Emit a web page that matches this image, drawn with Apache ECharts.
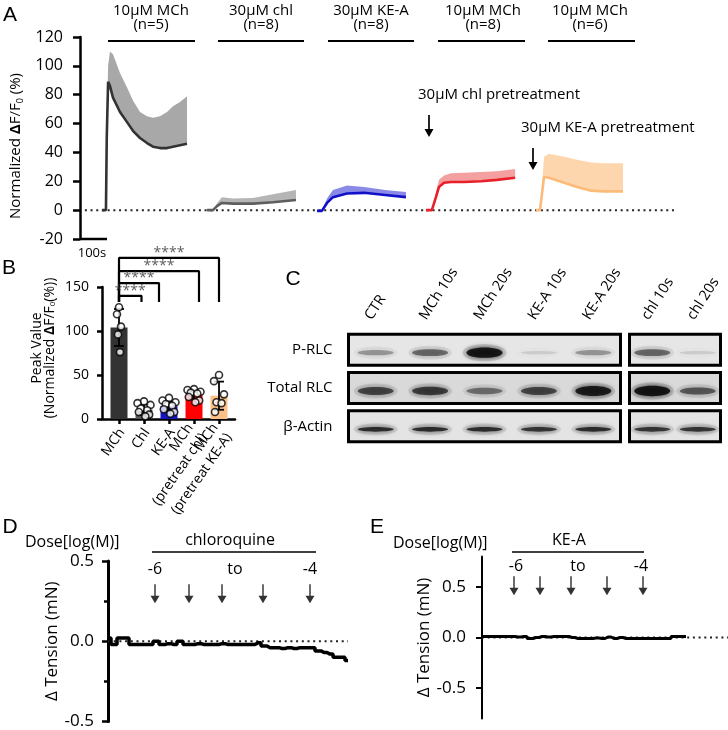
<!DOCTYPE html>
<html><head><meta charset="utf-8">
<script src="https://cdn.jsdelivr.net/npm/echarts@6/dist/echarts.min.js"></script>
<style>html,body{margin:0;padding:0;background:#fff}#c{width:728px;height:730px}</style>
</head><body><div id="c"></div>
<script>
// ---------- Panel A: Ca traces (time s, mean %, mean+error %) ----------
const tA1 = [81, 96, 99, 104, 111, 122, 148, 174, 196, 222, 248, 270, 296, 322, 344, 370, 396];
const mA1 = [0, 0, 50, 89, 86, 78, 68, 61, 55, 50, 46.5, 44, 43, 43, 44, 45, 46];
const uA1 = [0, 0, 60, 100, 110, 108, 95, 85, 76, 68, 65, 64, 65, 68, 72, 75, 79];
const tA2 = [470, 492, 508, 525, 566, 640, 714, 799];
const mA2 = [0, 0, 3, 5, 4.5, 4.5, 5.5, 7];
const uA2 = [0, 0, 5, 9, 8, 8.5, 11, 14];
const tA3 = [877, 895, 914, 936, 988, 1051, 1129, 1206];
const mA3 = [-0.5, -0.5, 5, 9, 11.5, 12, 10.5, 9];
const uA3 = [-0.5, -0.5, 8, 14, 17, 16, 14, 12.5];
const tA4 = [1280, 1302, 1317, 1328, 1347, 1373, 1421, 1484, 1543, 1610];
const mA4 = [0, 0, 9, 16, 19, 19.5, 19.5, 20, 21, 22.5];
const uA4 = [0, 0, 12, 21, 24, 25.5, 26, 26.5, 27, 28.5];
const tA5 = [1687, 1702, 1717, 1735, 1791, 1839, 1891, 1939, 2009];
const mA5 = [0, 0, 23, 22.5, 19, 16, 13.5, 13, 13];
const uA5 = [0, 0, 37, 39, 37, 35, 33, 32.5, 32.5];
const groupLabels = ['10µM MCh', '30µM chl', '30µM KE-A', '10µM MCh', '10µM MCh'];
const groupN = [5, 8, 8, 8, 6];
const yTicksA = [-20, 120, 20];

// ---------- Panel B: peak values ----------
const catsB = ['MCh', 'Chl', 'KE-A', 'MCh\n(pretreat chl)', 'MCh\n(pretreat KE-A)'];
const meansB = [104, 10.5, 14.5, 27.5, 26.5];
const sdB = [21, 6, 5.5, 5, 16];
const ptsMCh = [127, 119, 105, 96, 76];
const ptsChl = [20, 18, 16, 12, 10, 8, 5, 3];
const ptsKEA = [24, 21, 19, 17, 15, 11, 8, 6];
const ptsPreChl = [34, 33, 31, 30, 29, 25, 21, 19];
const ptsPreKEA = [50, 43, 28, 19, 18, 8];
const bracketEnd = [0.9, 1.6, 3.2, 4.0];
const bracketY = [140, 154.5, 168, 183];
const bracketBase = 133;

// ---------- Panel C: western blot band intensities (0..1) ----------
const lanesL = ['CTR', 'MCh 10s', 'MCh 20s', 'KE-A 10s', 'KE-A 20s'];
const lanesR = ['chl 10s', 'chl 20s'];
const rowsC = ['P-RLC', 'Total RLC', 'β-Actin'];
const pRLC_L = [0.35, 0.55, 1.0, 0.12, 0.35];
const totRLC_L = [0.7, 0.75, 0.5, 0.7, 0.95];
const actin_L = [0.85, 0.85, 0.85, 0.8, 0.85];
const pRLC_R = [0.55, 0.12];
const totRLC_R = [1.0, 0.6];
const actin_R = [0.8, 0.8];

// ---------- Panel D / E: tension traces ----------
const tD = [0,30,60,90,120,150,180,210,240,270,300,330,360,390,420,450,480,510,540,570,600,630,660,690,720,750,780,810,840,870,900,930,960,990,1020,1050,1080,1110,1140,1170,1200];
const vD = [0.02,-0.02,0.02,0.02,-0.02,-0.02,-0.02,-0.02,0.0,-0.02,-0.015,-0.02,0.0,-0.02,-0.02,-0.015,-0.02,-0.02,-0.02,-0.015,-0.02,-0.02,-0.02,-0.02,-0.02,-0.01,-0.03,-0.04,-0.04,-0.045,-0.04,-0.045,-0.04,-0.04,-0.04,-0.06,-0.07,-0.08,-0.1,-0.1,-0.12];
const doseD = [235, 405, 570, 775, 1010];
const tE = [0,30,60,90,120,150,180,210,240,270,300,330,360,390,420,450,480,510,540,570,600,630,660,690,720,750,780,810,840,870,900,930,960,990,1020];
const vE = [0.01,0.01,0.01,0.01,0.01,0.01,0.005,0.01,-0.01,0.0,0.01,0.005,0.01,0.01,0.01,0.0,-0.01,-0.01,-0.01,-0.005,-0.01,0.005,-0.01,0.0,-0.01,-0.01,-0.01,-0.01,-0.01,-0.01,-0.01,-0.01,0.01,0.01,0.01];
const doseE = [160, 290, 445, 625, 805];
const doseLabels = ['-6', 'to', '-4'];

// ======================================================
const FONT = 'Open Sans';
const chart = echarts.init(document.getElementById('c'), null, {width: 728, height: 730});
const blk = '#000';
const ARROW = 'path://M4.2,0 L5.8,0 L5.8,12 L10,12 L5,20 L0,12 L4.2,12 Z';
const DEG = Math.PI / 180;

function meanLine(t, m, lc) {
  return {type: 'line', xAxisIndex: 0, yAxisIndex: 0, symbol: 'none', data: t.map((x, i) => [x, m[i]]),
          lineStyle: {color: lc, width: 2.6}, z: 4, silent: true};
}
function band(t, m, u, color) {
  return {type: 'custom', xAxisIndex: 0, yAxisIndex: 0, z: 2, silent: true,
    data: t.map((x, i) => [x, m[i], u[i]]),
    renderItem(params, api) {
      if (params.dataIndex !== 0) return null;
      const P = [];
      for (let i = 0; i < t.length; i++) P.push(api.coord([t[i], u[i]]));
      for (let i = t.length - 1; i >= 0; i--) P.push(api.coord([t[i], m[i]]));
      return {type: 'polygon', shape: {points: P}, style: {fill: color}};
    }};
}
const jit = [0, -1, 1, -0.5, 0.5, -0.8, 0.8, 0.2];
function pts(arr, i, spread) { return arr.map((v, k) => [i + jit[k % jit.length] * spread, v]); }

function bandItem(params, api) {
  const l = api.value(0), r = api.value(1), I = api.value(2);
  const p = api.coord([l, r]);
  const cx = p[0], cy = p[1] + 3;
  const rx = 18;
  const ry = r === 2 ? 2.3 : 1.2 + 4 * I;
  return {type: 'group', children: [
    {type: 'ellipse', shape: {cx, cy, rx: rx + 4, ry: ry + 3.5}, style: {fill: 'rgba(40,40,40,' + (0.14 * I).toFixed(3) + ')', shadowBlur: 6, shadowColor: 'rgba(0,0,0,' + (0.2 * I).toFixed(3) + ')'}},
    {type: 'ellipse', shape: {cx, cy, rx, ry}, style: {fill: 'rgba(10,10,10,' + (0.88 * I).toFixed(3) + ')', shadowBlur: 5, shadowColor: 'rgba(0,0,0,' + (0.8 * I).toFixed(3) + ')'}}
  ]};
}
const boxFill = ['#e6e6e6', '#d9d9d9', '#e4e4e4'];
function boxItem(params, api) {
  const r = api.value(1);
  const cs = params.coordSys;
  const c = api.coord([0, r]);
  const h = 31;
  return {type: 'rect', shape: {x: cs.x, y: c[1] - h / 2, width: cs.width, height: h},
          style: {fill: boxFill[r], stroke: '#000', lineWidth: 3}};
}
function bandData(rowsArr) {
  const d = [];
  rowsArr.forEach((arr, r) => arr.forEach((I, l) => d.push([l, r, I])));
  return d;
}
function laneLabels(names, xi, yi) {
  return {type: 'custom', xAxisIndex: xi, yAxisIndex: yi, silent: true, z: 5,
    data: names.map((s, i) => [i, 0]),
    renderItem(params, api) {
      const p = api.coord([api.value(0), 0]);
      return {type: 'text', x: p[0] - 1, y: params.coordSys.y - 8, rotation: 57 * DEG,
        style: {text: names[params.dataIndex], fontSize: 14.5, fontFamily: FONT, fill: blk,
                align: 'left', verticalAlign: 'bottom', textAlign: 'left', textVerticalAlign: 'bottom'}};
    }};
}

// ---------- graphic (letters, annotations) ----------
const G = [];
function txt(x, y, t, size, align, extra) {
  G.push({type: 'text', x, y, silent: true, style: Object.assign({text: t, fontSize: size, fontFamily: FONT, fill: '#000',
    align: align || 'center', verticalAlign: 'middle', textAlign: align || 'center', textVerticalAlign: 'middle'}, extra || {})});
}
function hline(x1, x2, y, w) { G.push({type: 'line', silent: true, shape: {x1, y1: y, x2, y2: y}, style: {stroke: '#000', lineWidth: w || 1.8}}); }
function arrow(x, y1, y2) {
  G.push({type: 'line', silent: true, shape: {x1: x, y1: y1, x2: x, y2: y2 - 5}, style: {stroke: '#000', lineWidth: 1.7}});
  G.push({type: 'polygon', silent: true, shape: {points: [[x - 4.5, y2 - 8], [x + 4.5, y2 - 8], [x, y2]]}, style: {fill: '#000'}});
}
const LF = {fontFamily: 'Liberation Sans'};
txt(10, 15, 'A', 21, 'center', LF);
txt(9, 268, 'B', 21, 'center', LF);
txt(293, 279, 'C', 21, 'center', LF);
txt(10, 527, 'D', 21, 'center', LF);
txt(377, 527, 'E', 21, 'center', LF);

const gC = [151, 261, 371, 483, 590];
const gR = [[108, 195], [218, 304], [328, 414], [438, 525], [548, 635]];
groupLabels.forEach((s, i) => {
  txt(gC[i], 11, s, 15);
  txt(gC[i], 25, '(n=' + groupN[i] + ')', 15);
  hline(gR[i][0], gR[i][1], 41, 1.8);
});
txt(418, 95, '30µM chl pretreatment', 15, 'left');
arrow(429, 115, 137);
txt(521, 128, '30µM KE-A pretreatment', 15, 'left');
arrow(533, 148, 170);
txt(92, 253, '100s', 13);

txt(25, 542, 'Dose[log(M)]', 16, 'left');
txt(230, 540, 'chloroquine', 16);
hline(152, 316, 552, 1.6);
[155, 235, 310].forEach((x, i) => txt(x, 569, doseLabels[i], 16));
txt(393, 543, 'Dose[log(M)]', 16, 'left');
txt(569, 540, 'KE-A', 16);
hline(512, 644, 552, 1.6);
[516, 578, 641].forEach((x, i) => txt(x, 566, doseLabels[i], 16));

const dotted = {color: '#222', width: 2, type: [2, 3.7]};
const axLine = (w) => ({show: true, onZero: false, lineStyle: {color: blk, width: w}});
const axTick = (len, w) => ({show: true, length: len, lineStyle: {color: blk, width: w}});

const richName = (size) => ({
  a: {fontSize: size, fontFamily: FONT, color: blk, lineHeight: size + 2},
  b: {fontSize: size, fontFamily: FONT, fontWeight: 'bold', color: blk, lineHeight: size + 2},
  s: {fontSize: Math.round(size * 0.6), fontFamily: FONT, color: blk, verticalAlign: 'bottom', lineHeight: Math.round(size * 0.6)}
});

const option = {
  animation: false,
  textStyle: {fontFamily: FONT},
  graphic: G,
  grid: [
    {left: 80, top: 37, width: 600, height: 202},
    {left: 102, top: 287, width: 133, height: 132},
    {left: 348.5, top: 330.5, width: 272, height: 115},
    {left: 629.5, top: 330.5, width: 91, height: 115},
    {left: 108, top: 561, width: 240, height: 162},
    {left: 482, top: 556.5, width: 246, height: 162}
  ],
  xAxis: [
    {gridIndex: 0, type: 'value', min: 0, max: 2220, show: false},
    {gridIndex: 1, type: 'value', min: -0.68, max: 4.64, axisLine: axLine(2.5),
     axisTick: Object.assign(axTick(5, 2.5), {customValues: [0, 1, 2, 3, 4]}),
     axisLabel: {show: false}, splitLine: {show: false}},
    {gridIndex: 2, type: 'category', position: 'top', data: lanesL, axisLine: {show: false}, axisTick: {show: false}, axisLabel: {show: false}},
    {gridIndex: 3, type: 'category', position: 'top', data: lanesR, axisLine: {show: false}, axisTick: {show: false}, axisLabel: {show: false}},
    {gridIndex: 4, type: 'value', min: 0, max: 1200, show: false},
    {gridIndex: 5, type: 'value', min: 0, max: 1230, show: false}
  ],
  yAxis: [
    {gridIndex: 0, type: 'value', min: yTicksA[0], max: yTicksA[1], interval: yTicksA[2], axisLine: axLine(2.5), axisTick: axTick(7, 2.5),
     axisLabel: {fontSize: 16, margin: 17, color: blk}, splitLine: {show: false},
     name: '{a|Normalized }{b|Δ}{a|F/F}{s|0}{a| (%)}', nameLocation: 'middle', nameGap: 45,
     nameTextStyle: {padding: [0, 16, 0, 0], rich: richName(15)}},
    {gridIndex: 1, type: 'value', min: 0, max: 150, interval: 50, axisLine: axLine(2.5), axisTick: axTick(5, 2.5),
     axisLabel: {fontSize: 14, margin: 13, color: blk}, splitLine: {show: false},
     name: '{a|Peak Value}\n{a|(Normalized }{b|Δ}{a|F/F}{s|0}{a|(%))}', nameLocation: 'middle', nameGap: 45,
     nameTextStyle: {padding: [0, 0, 0, 10], rich: {
       a: {fontSize: 14, fontFamily: FONT, color: blk, lineHeight: 13},
       b: {fontSize: 14, fontFamily: FONT, fontWeight: 'bold', color: blk, lineHeight: 13},
       s: {fontSize: 8, fontFamily: FONT, color: blk, verticalAlign: 'bottom', lineHeight: 8}}}},
    {gridIndex: 2, type: 'category', data: rowsC, inverse: true, axisLine: {show: false}, axisTick: {show: false},
     axisLabel: {fontSize: 15, margin: 16, color: blk}},
    {gridIndex: 3, type: 'category', data: rowsC, inverse: true, show: false},
    {gridIndex: 4, type: 'value', min: -0.5, max: 0.5, interval: 0.5, axisLine: axLine(3), axisTick: axTick(6, 2.5),
     minorTick: {show: true, splitNumber: 2, length: 4, lineStyle: {color: blk, width: 2.5}},
     axisLabel: {fontSize: 17, margin: 14, color: blk, formatter: v => v.toFixed(1)}, splitLine: {show: false}, minorSplitLine: {show: false},
     name: 'Δ Tension (mN)', nameLocation: 'middle', nameGap: 46, nameTextStyle: {fontSize: 17, color: blk}},
    {gridIndex: 5, type: 'value', min: -0.8, max: 0.8, axisLine: axLine(2),
     axisTick: Object.assign(axTick(6, 2), {customValues: [-0.5, 0, 0.5]}),
     axisLabel: {customValues: [-0.5, 0, 0.5], fontSize: 17, margin: 16, color: blk, formatter: v => v.toFixed(1)}, splitLine: {show: false},
     name: 'Δ Tension (mN)', nameLocation: 'middle', nameGap: 49, nameTextStyle: {fontSize: 17, color: blk}}
  ],
  series: [
    // Panel A
    {type: 'line', xAxisIndex: 0, yAxisIndex: 0, data: [[18, 0], [2205, 0]], symbol: 'none', lineStyle: dotted, z: 1, silent: true},
    band(tA1, mA1, uA1, '#a8a8a8'), meanLine(tA1, mA1, '#333333'),
    band(tA2, mA2, uA2, '#b5b5b5'), meanLine(tA2, mA2, '#5e5e5e'),
    band(tA3, mA3, uA3, '#8a8ae6'), meanLine(tA3, mA3, '#1010c8'),
    band(tA4, mA4, uA4, '#f5a0a0'), meanLine(tA4, mA4, '#e8202a'),
    band(tA5, mA5, uA5, '#fed6ad'), meanLine(tA5, mA5, '#fdbb7a'),
    {type: 'line', xAxisIndex: 0, yAxisIndex: 0, data: [[0, -20], [100, -20]], symbol: 'none', clip: false,
     lineStyle: {color: blk, width: 2.5}, z: 5, silent: true},

    // Panel B
    {type: 'bar', xAxisIndex: 1, yAxisIndex: 1, barWidth: 17, z: 2, silent: true,
     data: meansB.map((m, i) => ({value: [i, m], itemStyle: {color: ['#333333', '#555555', '#1515c0', '#ff0000', '#fdc089'][i]}}))},
    {type: 'custom', xAxisIndex: 1, yAxisIndex: 1, z: 3, silent: true,
     data: meansB.map((m, i) => [i, m, sdB[i]]),
     renderItem(params, api) {
       const x = api.value(0), m = api.value(1), s = api.value(2);
       const top = api.coord([x, m + s]), bot = api.coord([x, m - s]);
       const hw = 5, st = {stroke: '#000', lineWidth: 1.8};
       return {type: 'group', children: [
         {type: 'line', shape: {x1: top[0], y1: top[1], x2: bot[0], y2: bot[1]}, style: st},
         {type: 'line', shape: {x1: top[0] - hw, y1: top[1], x2: top[0] + hw, y2: top[1]}, style: st},
         {type: 'line', shape: {x1: bot[0] - hw, y1: bot[1], x2: bot[0] + hw, y2: bot[1]}, style: st}
       ]};
     }},
    {type: 'scatter', xAxisIndex: 1, yAxisIndex: 1, z: 4, silent: true, symbolSize: 7,
     itemStyle: {color: '#fff', borderColor: '#000', borderWidth: 1.6},
     data: [].concat(pts(ptsMCh, 0, 0.08), pts(ptsChl, 1, 0.26), pts(ptsKEA, 2, 0.26), pts(ptsPreChl, 3, 0.26), pts(ptsPreKEA, 4, 0.2))},
    ...bracketEnd.map((xe, k) => ({type: 'line', xAxisIndex: 1, yAxisIndex: 1, clip: false, symbol: 'none', silent: true, z: 5,
      data: [[0, bracketBase], [0, bracketY[k]], [xe, bracketY[k]], [xe, bracketBase]], lineStyle: {color: blk, width: 2.2}})),
    {type: 'scatter', xAxisIndex: 1, yAxisIndex: 1, clip: false, symbolSize: 0, silent: true, z: 6,
     data: bracketEnd.map((xe, k) => [xe / 2, bracketY[k]]),
     label: {show: true, position: 'top', distance: -2, formatter: '****', fontSize: 14, color: '#333'}},
    {type: 'custom', xAxisIndex: 1, yAxisIndex: 1, silent: true, z: 6, clip: false,
     data: catsB.map((s, i) => [i, 0]),
     renderItem(params, api) {
       const p = api.coord([api.value(0), 0]);
       return {type: 'text', x: p[0] + 3, y: p[1] + 11, rotation: 55 * DEG,
         style: {text: catsB[params.dataIndex], fontSize: 14, lineHeight: 17, fontFamily: FONT, fill: blk,
                 align: 'right', verticalAlign: 'middle', textAlign: 'right', textVerticalAlign: 'middle'}};
     }},

    // Panel C
    {type: 'custom', xAxisIndex: 2, yAxisIndex: 2, z: 1, silent: true, data: rowsC.map((r, i) => [0, i]), renderItem: boxItem},
    {type: 'custom', xAxisIndex: 3, yAxisIndex: 3, z: 1, silent: true, data: rowsC.map((r, i) => [0, i]), renderItem: boxItem},
    {type: 'custom', xAxisIndex: 2, yAxisIndex: 2, z: 2, silent: true, data: bandData([pRLC_L, totRLC_L, actin_L]), renderItem: bandItem},
    {type: 'custom', xAxisIndex: 3, yAxisIndex: 3, z: 2, silent: true, data: bandData([pRLC_R, totRLC_R, actin_R]), renderItem: bandItem},
    laneLabels(lanesL, 2, 2),
    laneLabels(lanesR, 3, 3),

    // Panel D
    {type: 'line', xAxisIndex: 4, yAxisIndex: 4, data: [[0, 0], [1200, 0]], symbol: 'none', lineStyle: dotted, z: 1, silent: true},
    {type: 'line', xAxisIndex: 4, yAxisIndex: 4, data: tD.map((t, i) => [t, vD[i]]), step: 'middle', symbol: 'none',
     lineStyle: {color: blk, width: 3.5}, z: 3, silent: true},
    {type: 'scatter', xAxisIndex: 4, yAxisIndex: 4, data: doseD.map(t => [t, 0.296]), symbol: ARROW, symbolSize: [9, 19],
     itemStyle: {color: blk}, silent: true, clip: false},

    // Panel E
    {type: 'line', xAxisIndex: 5, yAxisIndex: 5, data: [[0, 0], [1230, 0]], symbol: 'none', lineStyle: dotted, z: 1, silent: true},
    {type: 'line', xAxisIndex: 5, yAxisIndex: 5, data: tE.map((t, i) => [t, vE[i]]), step: 'middle', symbol: 'none',
     lineStyle: {color: blk, width: 3}, z: 3, silent: true},
    {type: 'scatter', xAxisIndex: 5, yAxisIndex: 5, data: doseE.map(t => [t, 0.51]), symbol: ARROW, symbolSize: [9, 19],
     itemStyle: {color: blk}, silent: true, clip: false}
  ]
};
chart.setOption(option);
</script>
</body></html>
